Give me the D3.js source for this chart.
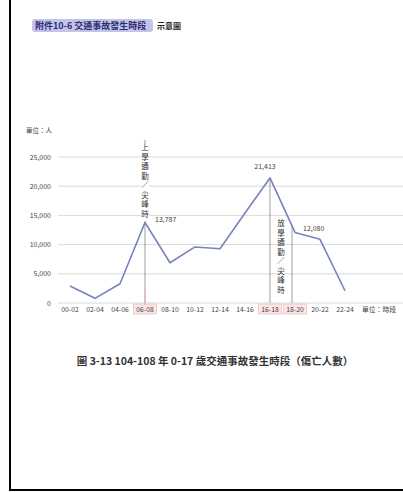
<!DOCTYPE html>
<html>
<head>
<meta charset="utf-8">
<script src="https://cdn.jsdelivr.net/npm/d3@7"></script>
<style>
  body { margin: 0; background: #fff; }
  svg { display: block; font-family: "Noto Sans CJK TC", "Noto Sans", sans-serif; }
</style>
</head>
<body>
<svg id="chart" width="403" height="492"></svg>
<script>
// time slots and injured/dead counts
const slots = ["00-02", "02-04", "04-06", "06-08", "08-10", "10-12", "12-14", "14-16", "16-18", "18-20", "20-22", "22-24"];
const counts = [2900, 800, 3300, 13787, 6900, 9600, 9300, 15400, 21413, 12080, 10900, 2100];
const yTicks = [0, 5000, 10000, 15000, 20000, 25000];
const labelled = ["06-08", "16-18", "18-20"];
const highlighted = ["06-08", "16-18", "18-20"];

const svg = d3.select("#chart");

// page borders
svg.append("line").attr("x1", 10).attr("y1", 0).attr("x2", 10).attr("y2", 491)
    .attr("stroke", "#000").attr("stroke-width", 2);
svg.append("line").attr("x1", 10).attr("y1", 490).attr("x2", 403).attr("y2", 490)
    .attr("stroke", "#000").attr("stroke-width", 2);

// header
svg.append("rect").attr("x", 32).attr("y", 19).attr("width", 121).attr("height", 13)
    .attr("rx", 3).attr("fill", "#c3c3ec");
svg.append("text").attr("x", 35).attr("y", 29).attr("font-size", 9).attr("font-weight", "bold")
    .attr("fill", "#2c2f6e").text("附件10-6 交通事故發生時段");
svg.append("text").attr("x", 157).attr("y", 29).attr("font-size", 8).attr("font-weight", "bold")
    .attr("fill", "#222").text("示意圖");

const x = d3.scalePoint().domain(slots).range([70, 345]);
const y = d3.scaleLinear().domain([0, 25000]).range([303, 157]);

// grid
svg.append("g").selectAll("line").data(yTicks).join("line")
    .attr("x1", 58).attr("x2", 403)
    .attr("y1", d => y(d)).attr("y2", d => y(d))
    .attr("stroke", "#d0d0d0").attr("stroke-width", 0.8);

svg.append("g").selectAll("text").data(yTicks).join("text")
    .attr("x", 51).attr("y", d => y(d) + 2.5)
    .attr("text-anchor", "end").attr("font-size", 7).attr("fill", "#444")
    .text(d => d3.format(",")(d));

svg.append("text").attr("x", 26).attr("y", 133).attr("font-size", 6.5).attr("fill", "#444").text("單位：人");

// x labels
const xl = svg.append("g");
xl.selectAll("rect").data(highlighted).join("rect")
    .attr("x", d => x(d) - 11.5).attr("y", 304).attr("width", 23).attr("height", 10)
    .attr("fill", "#fbe6e6").attr("stroke", "#eeb0b0").attr("stroke-width", 0.6);
xl.selectAll("text").data(slots).join("text")
    .attr("x", d => x(d)).attr("y", 312)
    .attr("text-anchor", "middle").attr("font-size", 6.8).attr("fill", "#444")
    .text(d => d);
svg.append("text").attr("x", 362).attr("y", 312).attr("font-size", 6.8).attr("fill", "#444").text("單位：時段");

// annotation lines
svg.append("line").attr("x1", x("06-08")).attr("x2", x("06-08")).attr("y1", 140).attr("y2", 303)
    .attr("stroke", "#777").attr("stroke-width", 0.7);
svg.append("line").attr("x1", x("06-08")).attr("x2", x("06-08")).attr("y1", 290).attr("y2", 305)
    .attr("stroke", "#eaa").attr("stroke-width", 0.8);
svg.append("line").attr("x1", x("16-18")).attr("x2", x("16-18")).attr("y1", y(21413)).attr("y2", 303)
    .attr("stroke", "#777").attr("stroke-width", 0.7);
svg.append("line").attr("x1", x("18-20") - 3).attr("x2", x("18-20") - 3).attr("y1", 226).attr("y2", 303)
    .attr("stroke", "#777").attr("stroke-width", 0.7);

function vtext(cx, top, str) {
  const chars = Array.from(str);
  const g = svg.append("g");
  chars.forEach((c, i) => {
    g.append("text").attr("x", cx).attr("y", top + i * 9.5)
      .attr("text-anchor", "middle").attr("font-size", 7.5).attr("fill", "#333")
      .text(c);
  });
}
// white backing behind first annotation text
svg.append("rect").attr("x", x("06-08") - 4).attr("y", 143).attr("width", 8).attr("height", 78).attr("fill", "#fff");
vtext(x("06-08"), 150, "上學通勤／尖峰時");
vtext((x("16-18") + x("18-20") - 3) / 2, 226, "放學通勤／尖峰時");

// series line
const line = d3.line().x((d, i) => x(slots[i])).y(d => y(d));
svg.append("path").datum(counts).attr("d", line)
    .attr("fill", "none").attr("stroke", "#7783bd").attr("stroke-width", 1.6)
    .attr("stroke-linejoin", "round");

// value labels
const fmt = d3.format(",");
const pos = { "06-08": [10, 0], "16-18": [-5, -9], "18-20": [8, -1] };
svg.append("g").selectAll("text").data(labelled).join("text")
    .attr("x", d => x(d) + pos[d][0])
    .attr("y", d => y(counts[slots.indexOf(d)]) + pos[d][1])
    .attr("font-size", 7).attr("fill", "#444")
    .attr("text-anchor", d => d === "16-18" ? "middle" : "start")
    .text(d => fmt(counts[slots.indexOf(d)]));

// caption
svg.append("text").attr("x", 215).attr("y", 365).attr("text-anchor", "middle")
    .attr("font-size", 10.5).attr("font-weight", "bold").attr("fill", "#333")
    .text("圖 3-13 104-108 年 0-17 歲交通事故發生時段（傷亡人數）");
</script>
</body>
</html>
